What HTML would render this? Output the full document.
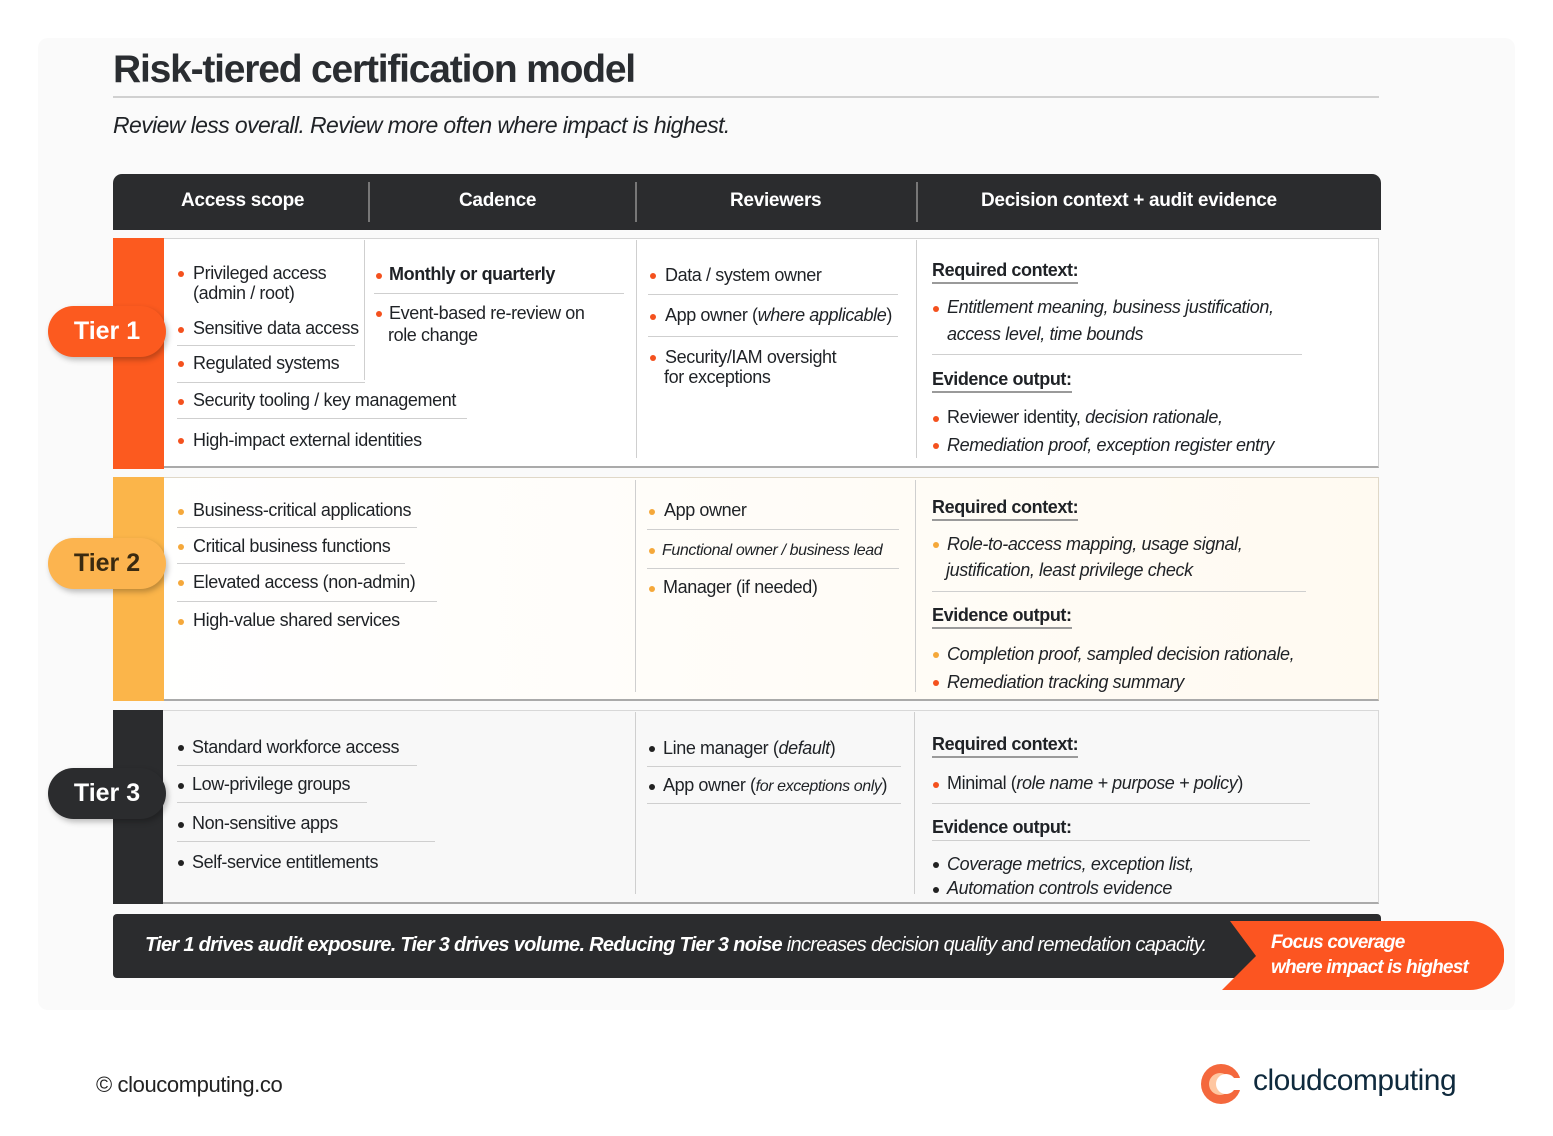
<!DOCTYPE html>
<html><head><meta charset="utf-8">
<style>
*{margin:0;padding:0;box-sizing:border-box}
body{width:1553px;height:1136px;background:#fff;position:relative;font-family:"Liberation Sans",sans-serif;color:#1f2226;overflow:hidden}
.a{position:absolute}
.t{position:absolute;white-space:nowrap;font-size:18px;letter-spacing:-0.4px;line-height:21px}
.t i{font-style:italic}
.d{position:absolute;width:6px;height:6px;border-radius:50%}
.o{background:#f4511e}.y{background:#f5a83a}.k{background:#222}
.hl{position:absolute;height:1px;background:#cfcfcf}
.vl{position:absolute;width:1px;background:#cfcfcf}
.h{position:absolute;color:#fff;font-weight:bold;font-size:19px;white-space:nowrap;letter-spacing:-0.3px}
.sub{position:absolute;font-weight:bold;font-size:18px;letter-spacing:-0.4px;border-bottom:2px solid #9a9a9a;padding-bottom:1px;white-space:nowrap}
.pill{position:absolute;left:48px;width:118px;height:51px;border-radius:26px;font-weight:bold;font-size:25px;text-align:center;line-height:51px;box-shadow:2px 3px 6px rgba(0,0,0,.25)}
</style></head><body>
<div class="a" style="left:38px;top:38px;width:1477px;height:972px;background:#fafafa;border-radius:10px"></div>
<div class="t" style="left:113px;top:48px;font-size:39px;line-height:44px;font-weight:bold;letter-spacing:-1.2px;color:#2a2d31">Risk-tiered certification model</div>
<div class="a" style="left:113px;top:96px;width:1266px;height:2px;background:#d0d0d0"></div>
<div class="t" style="left:113px;top:112px;font-size:23px;line-height:26px;font-style:italic;letter-spacing:-0.6px">Review less overall. Review more often where impact is highest.</div>

<div class="a" style="left:113px;top:174px;width:1268px;height:56px;background:#2b2c2e;border-radius:9px 9px 0 0"></div>
<div class="a" style="left:368px;top:182px;width:2px;height:40px;background:#777"></div>
<div class="a" style="left:635px;top:182px;width:2px;height:40px;background:#777"></div>
<div class="a" style="left:916px;top:182px;width:2px;height:40px;background:#777"></div>
<div class="h" style="left:181px;top:190px">Access scope</div>
<div class="h" style="left:459px;top:190px">Cadence</div>
<div class="h" style="left:730px;top:190px">Reviewers</div>
<div class="h" style="left:981px;top:190px">Decision context + audit evidence</div>

<div class="a" style="left:113px;top:238px;width:1266px;height:230px;background:#fff;border:1px solid #d5d5d5;border-bottom:2px solid #aaa"></div>
<div class="a" style="left:113px;top:238px;width:51px;height:231px;background:#fc5a1f"></div>
<div class="vl" style="left:364px;top:240px;height:140px"></div>
<div class="vl" style="left:636px;top:240px;height:218px"></div>
<div class="vl" style="left:916px;top:240px;height:218px"></div>
<div class="d o" style="left:178px;top:271px"></div><div class="t" style="left:193px;top:263px">Privileged access</div>
<div class="t" style="left:193px;top:283px">(admin / root)</div>
<div class="d o" style="left:178px;top:327px"></div><div class="t" style="left:193px;top:318px">Sensitive data access</div>
<div class="hl" style="left:177px;top:345px;width:178px"></div>
<div class="d o" style="left:178px;top:361px"></div><div class="t" style="left:193px;top:353px">Regulated systems</div>
<div class="hl" style="left:177px;top:382px;width:188px"></div>
<div class="d o" style="left:178px;top:399px"></div><div class="t" style="left:193px;top:390px">Security tooling / key management</div>
<div class="hl" style="left:177px;top:418px;width:290px"></div>
<div class="d o" style="left:178px;top:438px"></div><div class="t" style="left:193px;top:430px">High-impact external identities</div>
<div class="d o" style="left:376px;top:273px"></div><div class="t" style="left:389px;top:264px;font-weight:bold">Monthly or quarterly</div>
<div class="hl" style="left:374px;top:293px;width:250px"></div>
<div class="d o" style="left:376px;top:311px"></div><div class="t" style="left:389px;top:303px">Event-based re-review on</div>
<div class="t" style="left:388px;top:325px">role change</div>
<div class="d o" style="left:650px;top:273px"></div><div class="t" style="left:665px;top:265px">Data / system owner</div>
<div class="hl" style="left:648px;top:294px;width:250px"></div>
<div class="d o" style="left:650px;top:314px"></div><div class="t" style="left:665px;top:305px">App owner (<i>where applicable</i>)</div>
<div class="hl" style="left:648px;top:336px;width:250px"></div>
<div class="d o" style="left:650px;top:355px"></div><div class="t" style="left:665px;top:347px">Security/IAM oversight</div>
<div class="t" style="left:664px;top:367px">for exceptions</div>
<div class="sub" style="left:932px;top:260px">Required context:</div>
<div class="d o" style="left:933px;top:306px"></div><div class="t" style="left:947px;top:297px"><i>Entitlement meaning, business justification,</i></div>
<div class="t" style="left:947px;top:324px"><i>access level, time bounds</i></div>
<div class="hl" style="left:932px;top:354px;width:370px"></div>
<div class="sub" style="left:932px;top:369px">Evidence output:</div>
<div class="d o" style="left:933px;top:416px"></div><div class="t" style="left:947px;top:407px">Reviewer identity, <i>decision rationale,</i></div>
<div class="d o" style="left:933px;top:443px"></div><div class="t" style="left:947px;top:435px"><i>Remediation proof, exception register entry</i></div>
<div class="pill" style="top:306px;background:#fc5a1f;color:#fff">Tier 1</div>

<div class="a" style="left:113px;top:477px;width:1266px;height:224px;background:linear-gradient(90deg,#fff 0%,#fffaf1 100%);border:1px solid #e0d8c8;border-bottom:2px solid #aaa"></div>
<div class="a" style="left:113px;top:477px;width:51px;height:224px;background:#fbb54a"></div>
<div class="vl" style="left:635px;top:480px;height:212px"></div>
<div class="vl" style="left:915px;top:480px;height:212px"></div>
<div class="d y" style="left:178px;top:509px"></div><div class="t" style="left:193px;top:500px">Business-critical applications</div>
<div class="hl" style="left:177px;top:527px;width:240px"></div>
<div class="d y" style="left:178px;top:544px"></div><div class="t" style="left:193px;top:536px">Critical business functions</div>
<div class="hl" style="left:177px;top:563px;width:228px"></div>
<div class="d y" style="left:178px;top:580px"></div><div class="t" style="left:193px;top:572px">Elevated access (non-admin)</div>
<div class="hl" style="left:177px;top:601px;width:260px"></div>
<div class="d y" style="left:178px;top:619px"></div><div class="t" style="left:193px;top:610px">High-value shared services</div>
<div class="d y" style="left:649px;top:509px"></div><div class="t" style="left:664px;top:500px">App owner</div>
<div class="hl" style="left:647px;top:529px;width:252px"></div>
<div class="d y" style="left:649px;top:548px"></div><div class="t" style="left:662px;top:540px;font-size:16px"><i>Functional owner / business lead</i></div>
<div class="hl" style="left:647px;top:568px;width:252px"></div>
<div class="d y" style="left:649px;top:586px"></div><div class="t" style="left:663px;top:577px">Manager (if needed)</div>
<div class="sub" style="left:932px;top:497px">Required context:</div>
<div class="d y" style="left:933px;top:542px"></div><div class="t" style="left:947px;top:534px"><i>Role-to-access mapping, usage signal,</i></div>
<div class="t" style="left:946px;top:560px"><i>justification, least privilege check</i></div>
<div class="hl" style="left:932px;top:591px;width:374px"></div>
<div class="sub" style="left:932px;top:605px">Evidence output:</div>
<div class="d y" style="left:933px;top:652px"></div><div class="t" style="left:947px;top:644px"><i>Completion proof, sampled decision rationale,</i></div>
<div class="d o" style="left:933px;top:680px"></div><div class="t" style="left:947px;top:672px"><i>Remediation tracking summary</i></div>
<div class="pill" style="top:538px;background:#fcb44f;color:#3a2a10">Tier 2</div>

<div class="a" style="left:113px;top:710px;width:1266px;height:194px;background:#f8f8f8;border:1px solid #d8d8d8;border-bottom:2px solid #aaa"></div>
<div class="a" style="left:113px;top:710px;width:50px;height:194px;background:#2b2c2e"></div>
<div class="vl" style="left:635px;top:712px;height:182px"></div>
<div class="vl" style="left:914px;top:712px;height:182px"></div>
<div class="d k" style="left:178px;top:745px"></div><div class="t" style="left:192px;top:737px">Standard workforce access</div>
<div class="hl" style="left:177px;top:765px;width:240px"></div>
<div class="d k" style="left:178px;top:783px"></div><div class="t" style="left:192px;top:774px">Low-privilege groups</div>
<div class="hl" style="left:177px;top:802px;width:190px"></div>
<div class="d k" style="left:178px;top:822px"></div><div class="t" style="left:192px;top:813px">Non-sensitive apps</div>
<div class="hl" style="left:177px;top:841px;width:258px"></div>
<div class="d k" style="left:178px;top:860px"></div><div class="t" style="left:192px;top:852px">Self-service entitlements</div>
<div class="d k" style="left:649px;top:746px"></div><div class="t" style="left:663px;top:738px">Line manager (<i>default</i>)</div>
<div class="hl" style="left:647px;top:766px;width:254px"></div>
<div class="d k" style="left:649px;top:784px"></div><div class="t" style="left:663px;top:775px">App owner (<i style="font-size:16px">for exceptions only</i>)</div>
<div class="hl" style="left:647px;top:803px;width:254px"></div>
<div class="sub" style="left:932px;top:734px">Required context:</div>
<div class="d o" style="left:933px;top:782px"></div><div class="t" style="left:947px;top:773px">Minimal (<i>role name + purpose + policy</i>)</div>
<div class="hl" style="left:932px;top:803px;width:378px"></div>
<div class="t" style="left:932px;top:817px;font-weight:bold">Evidence output:</div>
<div class="hl" style="left:932px;top:840px;width:378px"></div>
<div class="d k" style="left:933px;top:862px"></div><div class="t" style="left:947px;top:854px"><i>Coverage metrics, exception list,</i></div>
<div class="d k" style="left:933px;top:887px"></div><div class="t" style="left:947px;top:878px"><i>Automation controls evidence</i></div>
<div class="pill" style="top:768px;background:#2b2c2e;color:#fff">Tier 3</div>

<div class="a" style="left:113px;top:914px;width:1268px;height:64px;background:#2b2c2e;border-radius:4px"></div>
<div class="t" style="left:145px;top:935px;color:#fff;font-size:20px;font-style:italic;letter-spacing:-0.7px"><b>Tier 1 drives audit exposure. Tier 3 drives volume. Reducing Tier 3 noise</b> increases decision quality and remedation capacity.</div>
<svg class="a" style="left:1220px;top:920px" width="284" height="72"><path d="M10 1 H250 A34 34 0 0 1 250 70 H2 L36 36 Z" fill="#fc5521"/></svg>
<div class="t" style="left:1271px;top:930px;color:#fff;font-size:19px;font-weight:bold;font-style:italic;line-height:25px;letter-spacing:-0.8px">Focus coverage<br>where impact is highest</div>

<div class="t" style="left:96px;top:1072px;font-size:22px;line-height:26px;color:#222">© cloucomputing.co</div>
<svg class="a" style="left:1200px;top:1062px" width="44" height="44"><circle cx="21" cy="22" r="20" fill="#f4683d"/><circle cx="20" cy="22" r="11" fill="#ffc7a1"/><circle cx="26" cy="22" r="10" fill="#fff"/><rect x="30" y="16" width="14" height="12" fill="#fff"/></svg>
<div class="t" style="left:1253px;top:1063px;font-size:30px;line-height:36px;color:#0f2a3d;letter-spacing:-0.5px">cloudcomputing</div>
</body></html>
